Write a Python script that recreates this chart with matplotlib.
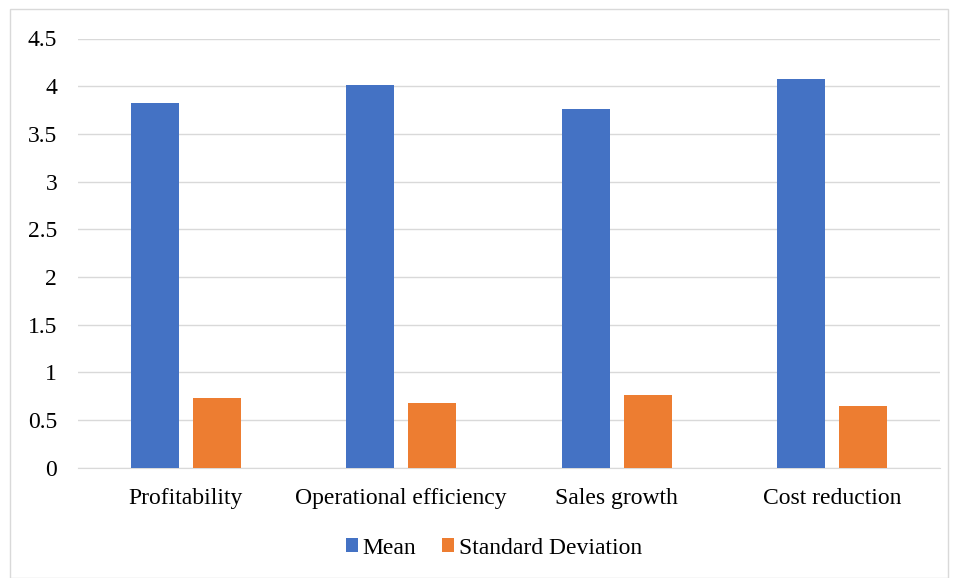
import matplotlib.pyplot as plt
from matplotlib.patches import Rectangle
import numpy as np

categories = ["Profitability", "Operational efficiency", "Sales growth", "Cost reduction"]
mean_vals = [3.82, 4.01, 3.76, 4.08]
sd_vals = [0.73, 0.68, 0.76, 0.65]
yticks = [0, 0.5, 1, 1.5, 2, 2.5, 3, 3.5, 4, 4.5]
ytick_labels = ["0", "0.5", "1", "1.5", "2", "2.5", "3", "3.5", "4", "4.5"]

plt.rcParams['font.family'] = ['Liberation Serif', 'DejaVu Serif']

W, H = 957, 578
fig = plt.figure(figsize=(W / 100, H / 100), dpi=100)

# light border around the whole chart
fig.patches.append(Rectangle((10 / W, 0), 938 / W, 1 - 9 / H, transform=fig.transFigure,
                             fill=False, edgecolor='#d9d9d9', linewidth=1))

ax = fig.add_axes([78 / W, 1 - 467.6 / H, (940 - 78) / W, (467.6 - 38.5) / H])

x = np.arange(len(categories))
w = 0.223
ax.bar(x - 0.143, mean_vals, w, color='#4472c4', label='Mean', zorder=3)
ax.bar(x + 0.143, sd_vals, w, color='#ed7d31', label='Standard Deviation', zorder=3)

ax.set_xlim(-0.5, len(categories) - 0.5)
ax.set_ylim(0, 4.5)
ax.set_yticks(yticks)
ax.set_yticklabels(ytick_labels)
ax.set_xticks(x)
ax.set_xticklabels(categories)
ax.tick_params(axis='both', length=0, labelsize=17, colors='black')
ax.tick_params(axis='y', pad=15)
ax.tick_params(axis='x', pad=15)

ax.grid(axis='y', color='#d9d9d9', linewidth=1, zorder=0)
for s in ['top', 'right', 'left']:
    ax.spines[s].set_visible(False)
ax.spines['bottom'].set_color('#d9d9d9')

fig.legend(loc='center', bbox_to_anchor=(494 / W, 1 - 548 / H), ncol=2, frameon=False,
           fontsize=17, handlelength=0.5, handleheight=0.5, handletextpad=0.2,
           columnspacing=1.1)

fig.savefig('out.png', dpi=100)
